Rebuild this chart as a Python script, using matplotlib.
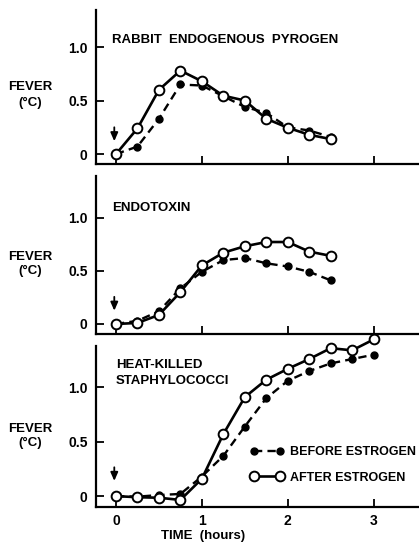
import matplotlib
matplotlib.use("Agg")
import matplotlib.pyplot as plt

plt.rcParams['font.family'] = ['Liberation Sans', 'DejaVu Sans']
plt.rcParams['font.weight'] = 'bold'

# ---- data (time in hours, fever in deg C) ----
time_pyrogen = [0, 0.25, 0.5, 0.75, 1.0, 1.25, 1.5, 1.75, 2.0, 2.25, 2.5]
pyrogen_before = [0.0, 0.07, 0.33, 0.65, 0.64, 0.54, 0.44, 0.385, 0.25, 0.22, 0.16]
pyrogen_after = [0.0, 0.24, 0.60, 0.78, 0.68, 0.545, 0.50, 0.33, 0.246, 0.18, 0.14]

time_endotoxin = [0, 0.25, 0.5, 0.75, 1.0, 1.25, 1.5, 1.75, 2.0, 2.25, 2.5]
endotoxin_before = [0.0, 0.03, 0.12, 0.335, 0.49, 0.60, 0.62, 0.57, 0.54, 0.49, 0.41]
endotoxin_after = [0.0, 0.01, 0.085, 0.30, 0.55, 0.67, 0.73, 0.77, 0.77, 0.68, 0.64]

time_staph = [0, 0.25, 0.5, 0.75, 1.0, 1.25, 1.5, 1.75, 2.0, 2.25, 2.5, 2.75, 3.0]
staph_before = [0.0, -0.005, 0.01, 0.02, 0.18, 0.37, 0.64, 0.90, 1.06, 1.15, 1.22, 1.26, 1.30]
staph_after = [0.0, -0.01, -0.015, -0.035, 0.16, 0.57, 0.91, 1.07, 1.17, 1.26, 1.36, 1.34, 1.44]

panel_titles = ["RABBIT  ENDOGENOUS  PYROGEN", "ENDOTOXIN", "HEAT-KILLED\nSTAPHYLOCOCCI"]
x_ticks = [0, 1, 2, 3]
x_ticklabels = ["0", "1", "2", "3"]
y_ticks = [0, 0.5, 1.0]
y_ticklabels = ["0", "0.5", "1.0"]
legend_labels = ["BEFORE ESTROGEN", "AFTER ESTROGEN"]

W, H = 419, 543
fig = plt.figure(figsize=(W / 100, H / 100), dpi=100)

def px_axes(left, top, right, bottom):
    return fig.add_axes([left / W, 1 - bottom / H, (right - left) / W, (bottom - top) / H])

panels = [
    dict(top=10, bottom=164, ylim=(-0.093, 1.346), t=time_pyrogen, b=pyrogen_before, a=pyrogen_after,
         fever_y=(87, 103)),
    dict(top=176, bottom=334, ylim=(-0.094, 1.39), t=time_endotoxin, b=endotoxin_before, a=endotoxin_after,
         fever_y=(257, 271)),
    dict(top=346, bottom=507, ylim=(-0.10, 1.38), t=time_staph, b=staph_before, a=staph_after,
         fever_y=(429, 443)),
]
title_pix = [(112, 40), (112, 208), (116, 373)]
arrow_vals = [(0.25, 0.12), (0.255, 0.125), (0.265, 0.14)]

axes = []
for i, p in enumerate(panels):
    ax = px_axes(96, p['top'], 426, p['bottom'])
    ax.set_xlim(-0.233, 3.61)
    ax.set_ylim(*p['ylim'])
    for s in ['top', 'right']:
        ax.spines[s].set_visible(False)
    for s in ['left', 'bottom']:
        ax.spines[s].set_linewidth(1.6)
    ax.tick_params(direction='in', length=6, width=1.3, labelsize=10, pad=6)
    ax.set_xticks(x_ticks)
    ax.set_yticks(y_ticks)
    ax.set_yticklabels(y_ticklabels, fontweight='bold')
    if i == 2:
        ax.set_xticklabels(x_ticklabels, fontweight='bold')
        ax.tick_params(axis='x', pad=5)
    else:
        ax.set_xticklabels([])
    lb, = ax.plot(p['t'], p['b'], color='black', lw=1.7, ls=(0, (3.5, 2.2)),
                  marker='o', ms=5, mfc='black', mec='black', clip_on=False, zorder=3)
    la, = ax.plot(p['t'], p['a'], color='black', lw=1.9, ls='-',
                  marker='o', ms=7, mfc='white', mec='black', mew=1.4, clip_on=False, zorder=4)
    # injection arrow
    ya, yb = arrow_vals[i]
    ax.annotate('', xy=(-0.02, yb), xytext=(-0.02, ya),
                arrowprops=dict(arrowstyle='-|>,head_length=0.5,head_width=0.22', color='black',
                                lw=1.3, shrinkA=0, shrinkB=0, mutation_scale=10))
    tx, ty = title_pix[i]
    fig.text(tx / W, 1 - ty / H, panel_titles[i], fontsize=9.5, fontweight='bold',
             va='center', ha='left', linespacing=1.35)
    fy1, fy2 = p['fever_y']
    fig.text(30 / W, 1 - fy1 / H, "FEVER", fontsize=9.5, fontweight='bold', ha='center', va='center')
    fig.text(30 / W, 1 - fy2 / H, "(°C)", fontsize=9.5, fontweight='bold', ha='center', va='center')
    axes.append((ax, lb, la))

ax3, lb3, la3 = axes[2]
ax3.legend([lb3, la3], legend_labels, loc='upper left',
           bbox_to_anchor=(250 / W, 1 - 446 / H), bbox_transform=fig.transFigure,
           frameon=False, numpoints=2, handlelength=2.7, handletextpad=0.5,
           labelspacing=1.1, borderpad=0, borderaxespad=0,
           prop=dict(size=9, weight='bold'))

fig.text(203 / W, 1 - 536 / H, "TIME  (hours)", fontsize=9.5, fontweight='bold', ha='center', va='center')

fig.savefig("out.png", dpi=100)
